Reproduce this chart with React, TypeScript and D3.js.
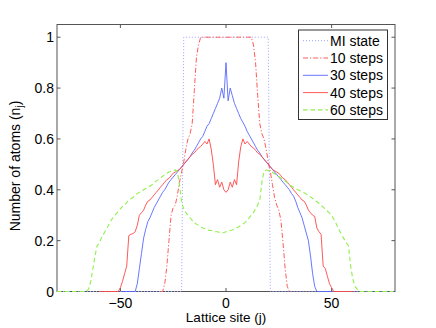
import React from "react";
import * as d3 from "d3";

// MI state: sparse [site, value] breakpoints
const miSites = [-80, -21, -20, 20, 21, 80];
const miValues = [0, 0, 1, 1, 0, 0];

// 10 steps, sites -31..31
const steps10Start = -31;
const steps10 = [
  0, 0, 0.03, 0.1, 0.2, 0.3, 0.33, 0.34, 0.38, 0.43, 0.47, 0.51, 0.56, 0.6, 0.62, 0.66,
  0.79, 0.92, 0.97, 1, 1, 1, 1, 1, 1, 1, 1, 1, 1, 1, 1, 1, 1, 1, 1, 1, 1, 1, 1, 1, 1, 1,
  1, 1, 0.97, 0.9, 0.77, 0.66, 0.62, 0.6, 0.56, 0.51, 0.47, 0.42, 0.37, 0.34, 0.32, 0.28,
  0.19, 0.09, 0.02, 0, 0,
];

// 30 steps, sites -50..50
const steps30Start = -50;
const steps30 = [
  0, 0, 0, 0, 0, 0, 0, 0, 0.03, 0.09, 0.15, 0.21, 0.245, 0.275, 0.29, 0.31, 0.33, 0.345,
  0.36, 0.375, 0.39, 0.4, 0.415, 0.43, 0.44, 0.45, 0.46, 0.47, 0.48, 0.49, 0.5, 0.51, 0.52,
  0.53, 0.545, 0.556, 0.57, 0.585, 0.6, 0.61, 0.63, 0.65, 0.66, 0.68, 0.7, 0.72, 0.74, 0.76,
  0.8, 0.76, 0.9, 0.75, 0.8, 0.77, 0.74, 0.72, 0.7, 0.68, 0.665, 0.65, 0.63, 0.615, 0.6,
  0.585, 0.57, 0.555, 0.545, 0.53, 0.52, 0.51, 0.5, 0.49, 0.48, 0.47, 0.46, 0.45, 0.44, 0.43,
  0.42, 0.41, 0.4, 0.385, 0.375, 0.355, 0.33, 0.31, 0.29, 0.26, 0.23, 0.2, 0.14, 0.07, 0.02,
  0, 0, 0, 0, 0, 0, 0, 0,
];

// 40 steps, sites -60..60
const steps40Start = -60;
const steps40 = [
  0, 0, 0, 0, 0, 0, 0, 0, 0, 0, 0.015, 0.04, 0.07, 0.1, 0.22, 0.225, 0.228, 0.235, 0.26, 0.3,
  0.31, 0.32, 0.34, 0.355, 0.36, 0.37, 0.38, 0.39, 0.4, 0.41, 0.42, 0.43, 0.44, 0.445, 0.455,
  0.465, 0.47, 0.475, 0.48, 0.49, 0.5, 0.51, 0.52, 0.53, 0.54, 0.545, 0.555, 0.565, 0.57,
  0.58, 0.59, 0.58, 0.6, 0.56, 0.5, 0.42, 0.44, 0.41, 0.43, 0.4, 0.39, 0.4, 0.43, 0.41, 0.44,
  0.42, 0.51, 0.57, 0.6, 0.58, 0.59, 0.58, 0.57, 0.565, 0.555, 0.545, 0.54, 0.53, 0.52, 0.51,
  0.5, 0.49, 0.48, 0.475, 0.47, 0.465, 0.455, 0.445, 0.44, 0.43, 0.42, 0.41, 0.4, 0.39, 0.38,
  0.37, 0.36, 0.355, 0.34, 0.32, 0.31, 0.3, 0.295, 0.25, 0.235, 0.225, 0.1, 0.09, 0.06, 0.03,
  0.015, 0, 0, 0, 0, 0, 0, 0, 0, 0, 0,
];

// 60 steps, sites -80..80
const steps60Start = -80;
const steps60 = [
  0, 0, 0, 0, 0, 0, 0, 0, 0, 0, 0, 0, 0, 0, 0, 0.01, 0.04, 0.09, 0.14, 0.18, 0.19, 0.21,
  0.225, 0.24, 0.255, 0.27, 0.285, 0.295, 0.305, 0.315, 0.325, 0.335, 0.34, 0.35, 0.36,
  0.365, 0.37, 0.38, 0.385, 0.39, 0.395, 0.4, 0.405, 0.41, 0.415, 0.42, 0.428, 0.435, 0.44,
  0.447, 0.453, 0.46, 0.465, 0.47, 0.473, 0.476, 0.478, 0.47, 0.42, 0.35, 0.325, 0.31, 0.3,
  0.29, 0.28, 0.27, 0.265, 0.26, 0.255, 0.25, 0.248, 0.245, 0.24, 0.24, 0.238, 0.235, 0.235,
  0.232, 0.23, 0.232, 0.235, 0.237, 0.24, 0.242, 0.245, 0.25, 0.255, 0.26, 0.265, 0.272,
  0.28, 0.29, 0.3, 0.31, 0.325, 0.34, 0.36, 0.43, 0.472, 0.478, 0.476, 0.472, 0.468, 0.463,
  0.458, 0.452, 0.446, 0.44, 0.434, 0.428, 0.42, 0.415, 0.41, 0.405, 0.4, 0.396, 0.392,
  0.388, 0.383, 0.378, 0.372, 0.366, 0.36, 0.353, 0.347, 0.34, 0.332, 0.324, 0.316, 0.308,
  0.298, 0.285, 0.27, 0.25, 0.235, 0.22, 0.205, 0.19, 0.18, 0.1, 0.05, 0.02, 0.01, 0, 0, 0,
  0, 0, 0, 0, 0, 0, 0, 0, 0, 0, 0, 0, 0, 0,
];

const xTicks = [-50, 0, 50];
const yTicks = [0, 0.2, 0.4, 0.6, 0.8, 1];
const yTickLabels = ["0", "0.2", "0.4", "0.6", "0.8", "1"];

const W = 436;
const H = 328;
const box = { left: 57, right: 395, top: 24.5, bottom: 291.5 };
const FONT = "'Liberation Sans', Arial, Helvetica, sans-serif";
const axisColor = "#555";

type Pt = [number, number];

const toPts = (start: number, vals: number[]): Pt[] => vals.map((v, i) => [start + i, v]);

const series = [
  { name: "MI state", pts: miSites.map((s, i) => [s, miValues[i]] as Pt), color: "#9aa2ff", dash: "1,2", w: 1 },
  { name: "10 steps", pts: toPts(steps10Start, steps10), color: "#ff5a5a", dash: "5,2,1.2,2", w: 1 },
  { name: "30 steps", pts: toPts(steps30Start, steps30), color: "#5868ff", dash: null, w: 0.9 },
  { name: "40 steps", pts: toPts(steps40Start, steps40), color: "#ff4646", dash: null, w: 0.9 },
  { name: "60 steps", pts: toPts(steps60Start, steps60), color: "#8ef04a", dash: "4.5,3", w: 1.1 },
];

export default function App() {
  const x = d3.scaleLinear().domain([-80, 80]).range([box.left, box.right]);
  const y = d3.scaleLinear().domain([0, 1.05]).range([box.bottom, box.top]);
  const line = d3
    .line<Pt>()
    .x((d) => x(d[0]))
    .y((d) => y(d[1]));

  const tick = 3.5;
  const legend = { left: 298.5, top: 30, right: 387.5, bottom: 119.5 };
  const rowH = 17.3;

  return (
    <svg
      width={W}
      height={H}
      style={{ position: "absolute", left: 0, top: 0, background: "#fff" }}
      fontFamily={FONT}
    >
      <rect x={0} y={0} width={W} height={H} fill="#fff" />
      <rect
        x={box.left}
        y={box.top}
        width={box.right - box.left}
        height={box.bottom - box.top}
        fill="#fff"
        stroke={axisColor}
        strokeWidth={1}
      />
      {/* ticks on all four sides, pointing inward */}
      {xTicks.map((t) => (
        <g key={"xt" + t}>
          <line x1={x(t)} x2={x(t)} y1={box.bottom} y2={box.bottom - tick} stroke={axisColor} />
          <line x1={x(t)} x2={x(t)} y1={box.top} y2={box.top + tick} stroke={axisColor} />
          <text x={x(t)} y={307.5} fontSize={14} textAnchor="middle" fill="#000">
            {t < 0 ? "\u2212" + Math.abs(t) : String(t)}
          </text>
        </g>
      ))}
      {yTicks.map((t, i) => (
        <g key={"yt" + t}>
          <line x1={box.left} x2={box.left + tick} y1={y(t)} y2={y(t)} stroke={axisColor} />
          <line x1={box.right} x2={box.right - tick} y1={y(t)} y2={y(t)} stroke={axisColor} />
          <text x={54} y={y(t) + 5} fontSize={14} textAnchor="end" fill="#000">
            {yTickLabels[i]}
          </text>
        </g>
      ))}

      {series.map((s) => (
        <path
          key={s.name}
          d={line(s.pts) || ""}
          fill="none"
          stroke={s.color}
          strokeWidth={s.w}
          strokeDasharray={s.dash || undefined}
          strokeLinejoin="round"
        />
      ))}

      {/* legend */}
      <rect
        x={legend.left}
        y={legend.top}
        width={legend.right - legend.left}
        height={legend.bottom - legend.top}
        fill="#fff"
        stroke="#333"
        strokeWidth={1}
      />
      {series.map((s, i) => {
        const cy = 40.7 + i * rowH;
        return (
          <g key={"lg" + s.name}>
            <line
              x1={303}
              x2={328}
              y1={cy}
              y2={cy}
              stroke={s.color}
              strokeWidth={s.w}
              strokeDasharray={s.dash || undefined}
            />
            <text x={330} y={cy + 5} fontSize={14} fill="#000">
              {s.name}
            </text>
          </g>
        );
      })}

      <text x={226} y={321.5} fontSize={13.5} textAnchor="middle" fill="#000">
        Lattice site (j)
      </text>
      <text
        transform={`translate(20,166) rotate(-90)`}
        fontSize={14}
        textAnchor="middle"
        fill="#000"
      >
        Number of atoms (n<tspan fontSize={10} dy={3}>j</tspan>
        <tspan dy={-3}>)</tspan>
      </text>
    </svg>
  );
}
